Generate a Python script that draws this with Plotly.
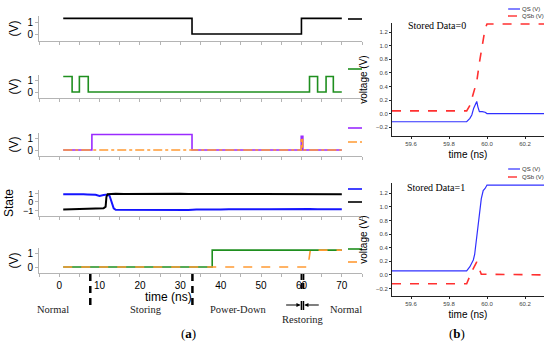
import plotly.graph_objects as go

# ---------------- data: panel (a) ----------------
t_sig1 = [1, 32.9, 60.0, 70]
v_sig1 = [1.3, 0, 1.3, 1.3]

t_sig2 = [1, 3.2, 5.0, 7.2, 62.0, 64.0, 66.1, 67.9, 70]
v_sig2 = [1.3, 0, 1.3, 0, 1.3, 0, 1.3, 0, 0]

t_sig3a = [1, 8.1, 32.9, 59.95, 60.35, 70]
v_sig3a = [0, 1.3, 0, 1.15, 0, 0]
t_sig3b = [1, 59.95, 60.3, 70]
v_sig3b = [0, 1.0, 0, 0]

t_state = [1, 2, 3, 4, 5, 6, 7, 8, 9, 10, 10.5, 11, 11.5, 11.7, 12.0, 12.5, 13.0, 13.5, 14,
           16, 18, 20, 22, 24, 26, 28, 30, 32, 34, 36, 38, 40, 42, 44, 46, 48, 50,
           52, 54, 56, 58, 60, 62, 64, 66, 68, 70]
v_state_blue = [0.92, 0.93, 0.91, 0.92, 0.90, 0.90, 0.88, 0.87, 0.85, 0.72, 0.80, 0.82, 0.84, 0.85, 0.86, 0.70, 0.0, -0.75, -0.92,
                 -0.93, -0.91, -0.93, -0.92, -0.90, -0.93, -0.92, -0.91, -0.93, -0.88, -0.90, -0.86, -0.88, -0.85, -0.87, -0.84, -0.87, -0.85,
                 -0.86, -0.84, -0.87, -0.85, -0.86, -0.84, -0.86, -0.85, -0.84, -0.86]
v_state_black = [-0.88, -0.87, -0.88, -0.86, -0.86, -0.85, -0.84, -0.83, -0.82, -0.80, -0.78, -0.74, -0.55, 0.60, 0.92, 0.95, 0.96, 0.95, 0.96,
                 0.95, 0.96, 0.94, 0.96, 0.95, 0.93, 0.95, 0.96, 0.94, 0.95, 0.93, 0.95, 0.94, 0.92, 0.94, 0.93, 0.95, 0.93,
                 0.92, 0.94, 0.93, 0.92, 0.90, 0.93, 0.92, 0.94, 0.93, 0.92]

t_sig5a = [1, 37.9, 70]
v_sig5a = [0, 1.3, 1.3]
t_sig5b = [1, 61.6, 62.2, 70]
v_sig5b = [0, 0, 1.3, 1.3]

x_ticks_a = [-5, 0, 5, 10, 15, 20, 25, 30, 35, 40, 45, 50, 55, 60, 65, 70, 75]
x_ticklabels_a = ["", "0", "", "10", "", "20", "", "30", "", "40", "", "50", "", "60", "", "70", ""]

phase_bounds = [7.7, 33.0]
restore_bounds = [60.0, 60.5]
phase_names = ["Normal", "Storing", "Power-Down", "Restoring", "Normal"]
phase_label_x = [-1.5, 21.5, 44.5, 60.3, 71.0]

# ---------------- data: panel (b) ----------------
top_qs_t = [59.5, 59.893, 59.91, 59.92, 59.93, 59.94, 59.946, 59.952, 59.96, 59.975, 59.99, 60.0, 60.3]
top_qs_v = [-0.12, -0.12, -0.07, -0.02, 0.08, 0.14, 0.18, 0.10, 0.03, 0.03, 0.02, 0.0, 0.0]
top_qsb_t = [59.5, 59.893, 59.91, 59.93, 59.946, 59.96, 59.975, 59.99, 60.0, 60.3]
top_qsb_v = [0.04, 0.04, 0.12, 0.30, 0.47, 0.75, 1.00, 1.25, 1.32, 1.32]

bot_qs_t = [59.5, 59.893, 59.91, 59.928, 59.935, 59.946, 59.955, 59.962, 59.97, 59.98, 59.99, 60.0, 60.3]
bot_qs_v = [0.06, 0.06, 0.12, 0.22, 0.30, 0.56, 0.85, 1.00, 1.12, 1.24, 1.27, 1.32, 1.32]
bot_qsb_t = [59.5, 59.893, 59.92, 59.946, 59.955, 59.97, 60.3]
bot_qsb_v = [-0.13, -0.13, 0.05, 0.19, 0.12, 0.01, 0.0]

y_ticks_b = [-0.2, 0.0, 0.2, 0.4, 0.6, 0.8, 1.0, 1.2]
x_ticks_b = [59.6, 59.8, 60.0, 60.2]

# ---------------- styling ----------------
W, H = 550, 353
SANS = "Arial, Liberation Sans, sans-serif"
SERIF = "Times New Roman, Liberation Serif, serif"
BLACK = "#000000"
GREEN = "#1f8f1f"
PURPLE = "#9a2bff"
ORANGE = "#ff9a33"
BLUE = "#1414ff"
RBLUE = "#3030ff"
RRED = "#ff3030"
AXC = "#b4b4b4"


def py(px):
    return 1 - px / H


def pxx(px):
    return px / W


fig = go.Figure()

left_dom = [pxx(39), pxx(362)]
panels = [  # (top px, bottom px, yrange, ytitle, tickvals)
    (16, 41, [-0.58, 1.5], "(V)", [0, 1]),
    (75, 98, [-0.5, 1.42], "(V)", [0, 1]),
    (133, 156, [-0.5, 1.42], "(V)", [0, 1]),
    (190, 216, [-1.65, 1.41], "State", [-1, 0, 1]),
    (248, 273, [-0.46, 1.46], "(V)", [0, 1]),
]

def add(x, y, i, color, dash="solid", width=1.6, shape="linear"):
    ax = "" if i == 1 else str(i)
    fig.add_trace(go.Scatter(x=x, y=y, mode="lines", xaxis="x" + ax, yaxis="y" + ax,
                             line=dict(color=color, dash=dash, width=width, shape=shape),
                             showlegend=False, hoverinfo="skip"))

add(t_sig1, v_sig1, 1, BLACK, shape="hv")
add(t_sig2, v_sig2, 2, GREEN, shape="hv")
add(t_sig3a, v_sig3a, 3, PURPLE, shape="hv")
add(t_sig3b, v_sig3b, 3, ORANGE, dash="dashdot", shape="hv")
add(t_state, v_state_blue, 4, BLUE, width=2)
add(t_state, v_state_black, 4, BLACK, width=2)
add(t_sig5a, v_sig5a, 5, GREEN, shape="hv")
add(t_sig5b, v_sig5b, 5, ORANGE, dash="dash")

add(top_qs_t, top_qs_v, 6, RBLUE, width=1.2)
add(top_qsb_t, top_qsb_v, 6, RRED, dash="dash", width=1.6)
add(bot_qs_t, bot_qs_v, 7, RBLUE, width=1.2)
add(bot_qsb_t, bot_qsb_v, 7, RRED, dash="dash", width=1.6)

layout = dict(width=W, height=H, margin=dict(l=0, r=0, t=0, b=0),
              paper_bgcolor="white", plot_bgcolor="white", showlegend=False,
              font=dict(family=SANS, color="black"))

for i, (top, bot, yr, ttl, tv) in enumerate(panels, start=1):
    s = "" if i == 1 else str(i)
    layout["xaxis" + s] = dict(domain=left_dom, range=[-5, 75], anchor="y" + s, automargin=False,
                               showline=True, linecolor=AXC, linewidth=1,
                               ticks="outside", ticklen=3, tickcolor=AXC,
                               tickvals=x_ticks_a,
                               ticktext=x_ticklabels_a if i == 5 else [""] * len(x_ticks_a),
                               tickfont=dict(size=10), showgrid=False, zeroline=False)
    layout["yaxis" + s] = dict(domain=[py(bot), py(top)], range=yr, anchor="x" + s, automargin=False,
                               showline=True, linecolor=AXC, linewidth=1,
                               ticks="outside", ticklen=3, tickcolor=AXC,
                               tickvals=tv, tickfont=dict(size=9 if i == 4 else 10),
                               showgrid=False, zeroline=False,
                               title=dict(text=ttl, font=dict(size=12), standoff=6))

right_dom = [pxx(392), pxx(544)]
for i, (top, bot, yr) in zip([6, 7], [(23, 136, [-0.33, 1.335]), (183, 296, [-0.31, 1.35])]):
    s = str(i)
    layout["xaxis" + s] = dict(domain=right_dom, range=[59.5, 60.3], anchor="y" + s, automargin=False,
                               showline=True, linecolor="#222", linewidth=1,
                               ticks="outside", ticklen=2, tickcolor="#222",
                               tickvals=x_ticks_b, tickformat=".1f",
                               tickfont=dict(size=6, color="#444"), showgrid=False, zeroline=False,
                               title=dict(text="time (ns)", font=dict(size=10), standoff=4))
    layout["yaxis" + s] = dict(domain=[py(bot), py(top)], range=yr, anchor="x" + s, automargin=False,
                               showline=True, linecolor="#222", linewidth=1,
                               ticks="outside", ticklen=2, tickcolor="#222",
                               tickvals=y_ticks_b, tickformat=".1f",
                               tickfont=dict(size=6, color="#444"), showgrid=False, zeroline=False,
                               title=dict(text="voltage (V)", font=dict(size=10), standoff=6))

shapes = []
annotations = []

# x-axis title of panel (a)
annotations.append(dict(x=27, y=py(297), xref="x5", yref="paper", text="time (ns)", showarrow=False,
                        yanchor="middle", font=dict(family=SANS, size=12)))

# legend-like keys to the right of panel (a)
keys_a = [(19, BLACK, "solid"), (69, GREEN, "solid"), (128, PURPLE, "solid"), (142, ORANGE, "dashdot"),
          (189, BLUE, "solid"), (202, BLACK, "solid"), (249, GREEN, "solid"), (262, ORANGE, "dash")]
for yk, c, d in keys_a:
    shapes.append(dict(type="line", xref="paper", yref="paper", x0=pxx(348), x1=pxx(362),
                       y0=py(yk), y1=py(yk), line=dict(color=c, width=1.6, dash=d)))

# phase boundaries
for b in phase_bounds:
    shapes.append(dict(type="line", xref="x5", yref="paper", x0=b, x1=b, y0=py(274), y1=py(310),
                       line=dict(color="black", width=2.5, dash="7px,5px")))
for b in restore_bounds:
    shapes.append(dict(type="line", xref="x5", yref="paper", x0=b, x1=b, y0=py(274), y1=py(291),
                       line=dict(color="black", width=1.8, dash="6px,3px")))
    shapes.append(dict(type="line", xref="x5", yref="paper", x0=b, x1=b, y0=py(301), y1=py(310),
                       line=dict(color="black", width=1.5)))
annotations.append(dict(x=restore_bounds[0] - 0.2, y=py(305), xref="x5", yref="paper", ax=-16, ay=0,
                        text="", showarrow=True, arrowhead=2, arrowsize=0.7, arrowwidth=1.2, arrowcolor="black"))
annotations.append(dict(x=restore_bounds[1] + 0.2, y=py(305), xref="x5", yref="paper", ax=16, ay=0,
                        text="", showarrow=True, arrowhead=2, arrowsize=0.7, arrowwidth=1.2, arrowcolor="black"))

for name, xl in zip(phase_names, phase_label_x):
    yl = py(319) if name == "Restoring" else py(309)
    annotations.append(dict(x=xl, y=yl, xref="x5", yref="paper", text=name, showarrow=False,
                            yanchor="middle", font=dict(family=SERIF, size=10.5, color="#222")))

# panel (b) legends
for (y1, y2) in [(9, 16), (169, 177)]:
    shapes.append(dict(type="line", xref="paper", yref="paper", x0=pxx(508), x1=pxx(520),
                       y0=py(y1), y1=py(y1), line=dict(color=RBLUE, width=1.2)))
    shapes.append(dict(type="line", xref="paper", yref="paper", x0=pxx(508), x1=pxx(520),
                       y0=py(y2), y1=py(y2), line=dict(color=RRED, width=1.4, dash="dash")))
    annotations.append(dict(x=pxx(521), y=py(y1), xref="paper", yref="paper", text="QS (V)",
                            showarrow=False, xanchor="left", yanchor="middle", borderpad=0,
                            font=dict(size=6, color="#333")))
    annotations.append(dict(x=pxx(521), y=py(y2), xref="paper", yref="paper", text="QSb (V)",
                            showarrow=False, xanchor="left", yanchor="middle", borderpad=0,
                            font=dict(size=6, color="#333")))

annotations.append(dict(x=pxx(406), y=py(26), xref="paper", yref="paper", text="Stored Data=0",
                        showarrow=False, xanchor="left", yanchor="middle", font=dict(family=SERIF, size=10)))
annotations.append(dict(x=pxx(405), y=py(187), xref="paper", yref="paper", text="Stored Data=1",
                        showarrow=False, xanchor="left", yanchor="middle", font=dict(family=SERIF, size=10)))

annotations.append(dict(x=pxx(188), y=py(343), xref="paper", yref="paper", text="(<b>a</b>)",
                        showarrow=False, font=dict(family=SERIF, size=13)))
annotations.append(dict(x=pxx(467), y=py(343), xref="paper", yref="paper", text="(<b>b</b>)",
                        showarrow=False, font=dict(family=SERIF, size=13)))

layout["shapes"] = shapes
layout["annotations"] = annotations
fig.update_layout(**layout)
fig.write_html("out.html", config={"displayModeBar": False},
               post_script="document.body.style.margin='0';")
